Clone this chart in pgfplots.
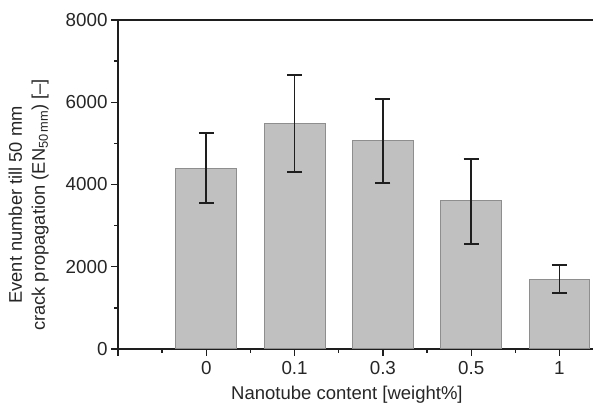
\documentclass[border=0pt]{standalone}
\usepackage{fontspec}
\setmainfont{Liberation Sans}
\usepackage{pgfplots}
\pgfplotsset{compat=1.18}
\usepackage{pgfplotstable}
\definecolor{barfill}{HTML}{C0C0C0}
\definecolor{baredge}{HTML}{8E8E8E}
\definecolor{axcol}{HTML}{1E1E1E}
\pgfplotstableread{
x y ep em
0 4385 860 842
1 5472 1199 1175
2 5058 1030 1028
3 3599 1022 1038
4 1702 348 340
}\datatab
\begin{document}
\begin{tikzpicture}
\path[use as bounding box] (0,0) rectangle (593pt,406pt);
\begin{axis}[
  at={(118pt,57pt)}, anchor=south west,
  scale only axis, width=475pt, height=329pt,
  xmin=-1, xmax=4.38, ymin=0, ymax=8000,
  axis x line*=box, axis y line*=left,
  axis line style={-, line width=1.5pt, color=axcol},
  xtick pos=bottom, ytick pos=left,
  tick align=outside,
  major tick length=7pt, minor tick length=4pt,
  every tick/.style={line width=1.3pt, color=axcol},
  xtick={-1,0,1,2,3,4},
  xticklabels={,0,0.1,0.3,0.5,1},
  minor x tick num=1,
  ytick={0,2000,4000,6000,8000},
  minor y tick num=1,
  scaled y ticks=false,
  /pgf/number format/assume math mode=true,
  /pgf/number format/1000 sep={},
  tick label style={font=\fontsize{18.8}{21}\selectfont, text=black!85},
  xticklabel style={yshift=-2pt},
  xlabel={Nanotube content [weight\%]},
  ylabel={Event number till 50 mm\\crack propagation (EN\textsubscript{50\,mm}) [--]},
  every axis x label/.style={at={(axis description cs:0.482,-0.155)}, anchor=base,
     font=\fontsize{18.5}{23}\selectfont, text=black!85},
  every axis y label/.style={at={(axis description cs:-0.188,0.438)}, rotate=90, anchor=center, align=center,
     font=\fontsize{18.3}{23}\selectfont, text=black!85},
  clip=true,
]
\addplot[ybar, bar width=0.69, fill=barfill, draw=baredge, line width=1pt,
  error bars/.cd, y dir=both, y explicit,
  error bar style={line width=1.6pt, color=axcol},
  error mark options={rotate=90, mark size=7.5pt, line width=1.8pt, color=axcol}]
  table[x=x, y=y, y error plus=ep, y error minus=em] {\datatab};
\end{axis}
\end{tikzpicture}
\end{document}
